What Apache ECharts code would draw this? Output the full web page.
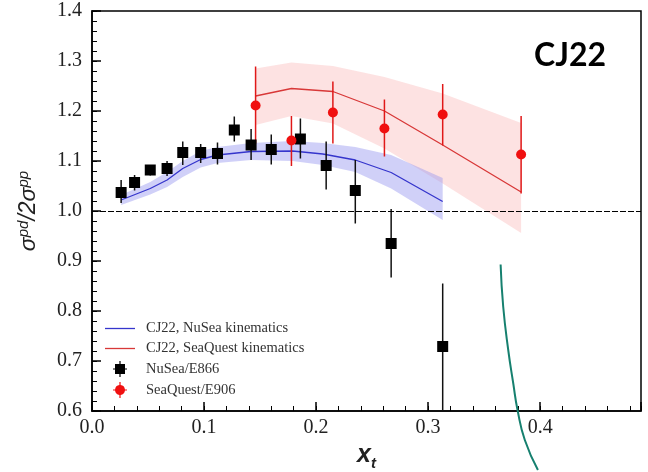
<!DOCTYPE html>
<html>
<head>
<meta charset="utf-8">
<script src="https://cdn.jsdelivr.net/npm/echarts@6/dist/echarts.min.js"></script>
<style>
  html, body { margin: 0; padding: 0; background: #fff; }
  #chart { width: 648px; height: 472px; }
</style>
</head>
<body>
<div id="chart"></div>
<script>
// NuSea/E866 data points
var nuseaX = [0.026, 0.038, 0.052, 0.067, 0.081, 0.097, 0.112, 0.127, 0.142, 0.160, 0.186, 0.209, 0.235, 0.267, 0.313]
var nuseaY = [1.037, 1.057, 1.082, 1.085, 1.117, 1.117, 1.115, 1.162, 1.132, 1.123, 1.144, 1.091, 1.041, 0.935, 0.729]
var nuseaLo = [1.016, 1.041, 1.071, 1.070, 1.092, 1.096, 1.093, 1.139, 1.102, 1.093, 1.105, 1.043, 0.975, 0.867, 0.600]
var nuseaHi = [1.062, 1.072, 1.091, 1.100, 1.139, 1.134, 1.137, 1.189, 1.164, 1.153, 1.185, 1.139, 1.102, 1.004, 0.855]

// SeaQuest/E906 data points
var seaqX = [0.146, 0.178, 0.215, 0.261, 0.313, 0.383]
var seaqY = [1.211, 1.141, 1.197, 1.165, 1.193, 1.113]
var seaqLo = [1.135, 1.090, 1.135, 1.109, 1.131, 1.035]
var seaqHi = [1.289, 1.190, 1.259, 1.223, 1.254, 1.190]

// CJ22 curves with uncertainty bands
var cjNuX = [0.026, 0.052, 0.067, 0.081, 0.097, 0.112, 0.142, 0.179, 0.206, 0.235, 0.267, 0.313]
var cjNuY = [1.022, 1.045, 1.062, 1.085, 1.103, 1.112, 1.119, 1.120, 1.114, 1.102, 1.077, 1.019]
var cjNuUp = [1.032, 1.058, 1.078, 1.100, 1.120, 1.128, 1.136, 1.140, 1.136, 1.128, 1.112, 1.066]
var cjNuDn = [1.012, 1.033, 1.048, 1.068, 1.087, 1.096, 1.102, 1.100, 1.092, 1.078, 1.045, 0.982]

var cjSqX = [0.146, 0.178, 0.215, 0.261, 0.313, 0.383]
var cjSqY = [1.230, 1.245, 1.239, 1.200, 1.132, 1.038]
var cjSqUp = [1.285, 1.297, 1.290, 1.268, 1.235, 1.176]
var cjSqDn = [1.172, 1.190, 1.175, 1.125, 1.055, 0.956]

// hand drawn annotation arc
var arcX = [0.3647, 0.367, 0.3715, 0.376, 0.3798, 0.3863, 0.398]
var arcY = [0.893, 0.809, 0.722, 0.655, 0.602, 0.542, 0.482]

var xTicks = [0.0, 0.1, 0.2, 0.3, 0.4]
var yTicks = [0.6, 0.7, 0.8, 0.9, 1.0, 1.1, 1.2, 1.3, 1.4]

function pairs(xs, ys) {
  return xs.map(function (x, i) { return [x, ys[i]] })
}
function bars(xs, lo, hi) {
  return xs.map(function (x, i) { return [x, lo[i], hi[i]] })
}

function bandRender(xs, up, dn, color) {
  return function (params, api) {
    if (params.dataIndex !== 0) return
    var pts = []
    for (var i = 0; i < xs.length; i++) pts.push(api.coord([xs[i], up[i]]))
    for (var j = xs.length - 1; j >= 0; j--) pts.push(api.coord([xs[j], dn[j]]))
    return { type: 'polygon', shape: { points: pts }, style: { fill: color }, silent: true }
  }
}

function errRender(color, width) {
  return function (params, api) {
    var a = api.coord([api.value(0), api.value(1)])
    var b = api.coord([api.value(0), api.value(2)])
    return {
      type: 'line',
      shape: { x1: a[0], y1: a[1], x2: b[0], y2: b[1] },
      style: { stroke: color, lineWidth: width }
    }
  }
}

function tickLabel(v, list) {
  for (var i = 0; i < list.length; i++) {
    if (Math.abs(v - list[i]) < 1e-6) return list[i].toFixed(1)
  }
  return ''
}

// legend icons
var lineIcon = 'path://M0,0H30V1.3H0Z'
var squareIcon = 'path://M6.4,0H7.6V3H12V7.4H14V8.6H12V13H7.6V16H6.4V13H2V8.6H0V7.4H2V3H6.4Z'
var circleIcon = 'path://M6.4,0H7.6V3.04A5,5 0 0 1 11.96,7.4H14V8.6H11.96A5,5 0 0 1 7.6,12.96V16H6.4V12.96A5,5 0 0 1 2.04,8.6H0V7.4H2.04A5,5 0 0 1 6.4,3.04Z'

var serif = 'Liberation Serif'
var chart = echarts.init(document.getElementById('chart'))

chart.setOption({
  animation: false,
  grid: {
    left: 92, right: 7, top: 11, bottom: 61, outerBoundsMode: 'none',
    show: true, borderColor: '#000', borderWidth: 1.5, backgroundColor: 'transparent'
  },
  legend: {
    orient: 'vertical',
    left: 105,
    top: 321,
    padding: 0,
    itemWidth: 30,
    itemHeight: 16,
    itemGap: 5,
    textStyle: { fontFamily: serif, fontSize: 14.5, color: '#333', padding: [0, 0, 0, 6] },
    data: [
      { name: 'CJ22, NuSea kinematics', icon: lineIcon },
      { name: 'CJ22, SeaQuest kinematics', icon: lineIcon },
      { name: 'NuSea/E866', icon: squareIcon },
      { name: 'SeaQuest/E906', icon: circleIcon }
    ]
  },
  graphic: [
    { type: 'text', left: 534, top: 40, style: { text: 'CJ22', font: 'bold 32px Lato', fill: '#000' } }
  ],
  xAxis: [
    {
      type: 'value', min: 0, max: 0.49, interval: 0.1, position: 'bottom',
      name: '{x|x}{t|t}', nameLocation: 'middle', nameGap: 32,
      nameTextStyle: {
        rich: {
          x: { fontFamily: 'Liberation Sans', fontSize: 25, fontWeight: 'bold', fontStyle: 'italic', color: '#222', lineHeight: 28, verticalAlign: 'top' },
          t: { fontFamily: 'Liberation Sans', fontSize: 15, fontWeight: 'bold', fontStyle: 'italic', color: '#222', lineHeight: 28, verticalAlign: 'bottom' }
        }
      },
      axisLine: { lineStyle: { color: '#000', width: 1.5 } },
      axisTick: { inside: true, length: 9, lineStyle: { color: '#000', width: 1.5 } },
      axisLabel: { fontFamily: serif, fontSize: 20, color: '#222', margin: 7, formatter: function (v) { return tickLabel(v, xTicks) } },
      splitLine: { show: false }
    },
    {
      type: 'value', min: 0, max: 0.49, interval: 0.02, position: 'bottom',
      axisLine: { show: false },
      axisTick: { inside: true, length: 5, lineStyle: { color: '#000', width: 1 } },
      axisLabel: { show: false },
      splitLine: { show: false }
    }
  ],
  yAxis: [
    {
      type: 'value', min: 0.6, max: 1.4, interval: 0.1, position: 'left',
      name: '{i|σ}{s|pd}{i|/2σ}{s|pp}', nameLocation: 'middle', nameGap: 52, nameRotate: 90,
      nameTextStyle: {
        rich: {
          i: { fontFamily: 'Liberation Sans', fontSize: 23, fontStyle: 'italic', color: '#222', lineHeight: 26, verticalAlign: 'bottom' },
          s: { fontFamily: 'Liberation Sans', fontSize: 15, fontStyle: 'italic', color: '#222', lineHeight: 26, verticalAlign: 'top', padding: [2, 0, 0, 0] }
        }
      },
      axisLine: { lineStyle: { color: '#000', width: 1.5 } },
      axisTick: { inside: true, length: 9, lineStyle: { color: '#000', width: 1.5 } },
      axisLabel: { fontFamily: serif, fontSize: 20, color: '#222', margin: 10, formatter: function (v) { return tickLabel(v, yTicks) } },
      splitLine: { show: false }
    },
    {
      type: 'value', min: 0.6, max: 1.4, interval: 0.02, position: 'left',
      axisLine: { show: false },
      axisTick: { inside: true, length: 5, lineStyle: { color: '#000', width: 1 } },
      axisLabel: { show: false },
      splitLine: { show: false }
    }
  ],
  series: [
    {
      type: 'custom', name: 'bandSq', data: [[0, 0]], z: 1,
      renderItem: bandRender(cjSqX, cjSqUp, cjSqDn, 'rgba(250,190,190,0.45)')
    },
    {
      type: 'custom', name: 'bandNu', data: [[0, 0]], z: 1,
      renderItem: bandRender(cjNuX, cjNuUp, cjNuDn, 'rgba(150,150,240,0.45)')
    },
    {
      name: 'CJ22, NuSea kinematics', type: 'line', data: pairs(cjNuX, cjNuY), z: 3,
      symbol: 'none', color: '#3535cc', lineStyle: { width: 1.3 },
      markLine: {
        silent: true, symbol: 'none', label: { show: false },
        lineStyle: { color: '#000', width: 1, type: [6, 2] },
        data: [{ yAxis: 1.0 }]
      }
    },
    {
      name: 'CJ22, SeaQuest kinematics', type: 'line', data: pairs(cjSqX, cjSqY), z: 3,
      symbol: 'none', color: '#d83838', lineStyle: { width: 1.3 }
    },
    {
      type: 'custom', name: 'errNu', data: bars(nuseaX, nuseaLo, nuseaHi), z: 4, clip: true,
      renderItem: errRender('#111', 1.5)
    },
    {
      type: 'custom', name: 'errSq', data: bars(seaqX, seaqLo, seaqHi), z: 4, clip: true,
      renderItem: errRender('#e01818', 1.5)
    },
    {
      name: 'NuSea/E866', type: 'scatter', data: pairs(nuseaX, nuseaY), z: 5,
      symbol: 'rect', symbolSize: 11, color: '#000', itemStyle: { opacity: 1 }
    },
    {
      name: 'SeaQuest/E906', type: 'scatter', data: pairs(seaqX, seaqY), z: 5,
      symbol: 'circle', symbolSize: 10, color: '#f01010', itemStyle: { opacity: 1 }
    },
    {
      type: 'line', name: 'arc', data: pairs(arcX, arcY), z: 6, clip: false,
      symbol: 'none', smooth: true, color: '#16806f', lineStyle: { width: 2 }
    }
  ]
})
</script>
</body>
</html>
